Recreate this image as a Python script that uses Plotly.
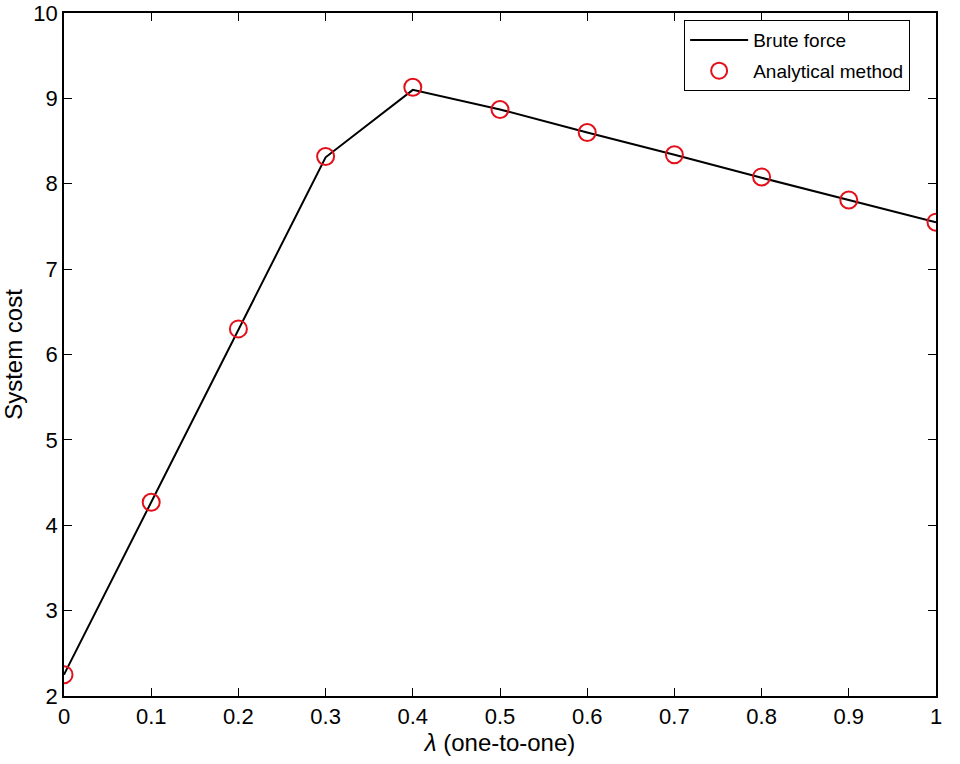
import plotly.graph_objects as go

lam = [0, 0.1, 0.2, 0.3, 0.4, 0.5, 0.6, 0.7, 0.8, 0.9, 1.0]
brute_force = [2.25, 4.27, 6.29, 8.31, 9.10, 8.87, 8.60, 8.34, 8.07, 7.81, 7.55]
analytical = [2.25, 4.27, 6.30, 8.32, 9.13, 8.87, 8.60, 8.34, 8.08, 7.81, 7.55]
x_ticks = [0, 0.1, 0.2, 0.3, 0.4, 0.5, 0.6, 0.7, 0.8, 0.9, 1]
x_ticklabels = ["0", "0.1", "0.2", "0.3", "0.4", "0.5", "0.6", "0.7", "0.8", "0.9", "1"]
y_ticks = [2, 3, 4, 5, 6, 7, 8, 9, 10]

FONT = "Liberation Sans, Arial, Helvetica, sans-serif"

fig = go.Figure()
fig.add_trace(go.Scatter(x=lam, y=brute_force, mode="lines", name="Brute force",
                         legendgroup="a",
                         line=dict(color="black", width=2)))
fig.add_trace(go.Scatter(x=lam, y=analytical, mode="markers", name="Analytical method",
                         legendgroup="b",
                         marker=dict(symbol="circle-open", size=17, color="#e3101a",
                                     line=dict(width=2, color="#e3101a"))))

axis_common = dict(showline=True, linecolor="black", linewidth=1.6, mirror="ticks",
                   ticks="inside", ticklen=8, tickwidth=1.3, tickcolor="black",
                   showgrid=False, zeroline=False, automargin=False,
                   ticklabeloverflow="allow",
                   tickfont=dict(family=FONT, size=22, color="black"))

fig.update_xaxes(range=[0, 1], tickvals=x_ticks, ticktext=x_ticklabels,
                 title=dict(text="<i>λ</i> (one-to-one)", standoff=4,
                            font=dict(family=FONT, size=24, color="black")),
                 **axis_common)
fig.update_yaxes(range=[2, 10], tickvals=y_ticks,
                 title=dict(text="System cost", standoff=16,
                            font=dict(family=FONT, size=24, color="black")),
                 **axis_common)

fig.update_layout(
    width=960, height=764,
    margin=dict(l=64, r=24, t=13, b=68),
    paper_bgcolor="white", plot_bgcolor="white",
    showlegend=True,
    legend=dict(x=0.970, y=0.990, xanchor="right", yanchor="top",
                bgcolor="white", bordercolor="black", borderwidth=1.3,
                itemwidth=58, tracegroupgap=3,
                font=dict(family=FONT, size=19, color="black")),
)

fig.write_html("out.html", config={"displayModeBar": False},
               post_script="document.body.style.margin='0';")
